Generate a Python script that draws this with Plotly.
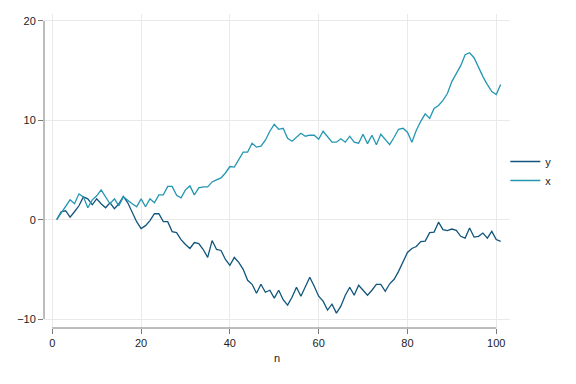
import plotly.graph_objects as go

n = list(range(1, 102))

y_vals = [0, 0.8, 0.9, 0.25, 0.8, 1.4, 2.3, 2.1, 1.5, 2.1,
          1.6, 1.2, 1.7, 1.1, 1.6, 2.35, 1.7, 0.7, -0.2, -0.9,
          -0.6, -0.1, 0.6, 0.6, -0.2, -0.2, -1.2, -1.3, -2.0, -2.5,
          -2.9, -2.3, -2.4, -3.0, -3.8, -2.1, -3.0, -3.1, -4.0, -4.6,
          -3.8, -4.3, -5.0, -6.1, -6.5, -7.4, -6.5, -7.3, -7.1, -7.9,
          -7.1, -8.05, -8.6, -7.8, -6.8, -7.7, -6.7, -5.8, -6.7, -7.7,
          -8.2, -9.1, -8.5, -9.4, -8.7, -7.6, -6.8, -7.6, -6.6, -7.1,
          -7.6, -7.1, -6.5, -6.5, -7.2, -6.45, -6.0, -5.2, -4.3, -3.3,
          -2.9, -2.7, -2.2, -2.15, -1.3, -1.25, -0.25, -1.0, -1.1, -0.94,
          -1.07, -1.67, -1.85, -0.84, -1.75, -1.67, -1.34, -1.85, -1.17, -2.0,
          -2.18]

x_vals = [0, 0.7, 1.3, 2.0, 1.6, 2.6, 2.3, 1.2, 2.0, 2.4,
          3.0, 2.3, 1.6, 2.1, 1.4, 2.3, 1.9, 1.6, 1.3, 2.1,
          1.3, 2.1, 1.7, 2.5, 2.5, 3.35, 3.35, 2.45, 2.2, 3.0,
          3.4, 2.5, 3.2, 3.3, 3.3, 3.8, 4.0, 4.2, 4.7, 5.35,
          5.3, 6.0, 6.8, 6.8, 7.7, 7.3, 7.4, 8.0, 8.9, 9.6,
          9.1, 9.2, 8.2, 7.9, 8.3, 8.7, 8.4, 8.5, 8.5, 8.1,
          8.9, 8.4, 7.8, 7.8, 8.15, 7.8, 8.4, 7.8, 7.7, 8.6,
          7.65, 8.5, 7.55, 8.6, 8.1, 7.55, 8.3, 9.1, 9.2, 8.8,
          7.8, 9.0, 9.9, 10.65, 10.2, 11.2, 11.5, 12.0, 12.7, 13.9,
          14.7, 15.5, 16.6, 16.8, 16.3, 15.3, 14.4, 13.6, 12.9, 12.6,
          13.6]

x_ticks = [0, 20, 40, 60, 80, 100]
y_ticks = [-10, 0, 10, 20]

FONT = "Arial, Liberation Sans, Helvetica, sans-serif"
AXIS_COLOR = "#7a7a7a"
GRID = "#e9e9e9"

fig = go.Figure()
fig.add_trace(go.Scatter(x=n, y=y_vals, mode="lines", name="y",
                         line=dict(color="#11557c", width=1.3)))
fig.add_trace(go.Scatter(x=n, y=x_vals, mode="lines", name="x",
                         line=dict(color="#2397b1", width=1.3)))

fig.update_layout(
    width=568, height=376,
    margin=dict(l=36, r=66, t=6, b=56, autoexpand=False),
    paper_bgcolor="white", plot_bgcolor="white",
    font=dict(family=FONT, size=11, color="#222222"),
    showlegend=True,
    legend=dict(x=0.99, xanchor="left", y=0.5, yanchor="middle",
                font=dict(size=11), itemwidth=30, tracegroupgap=0,
                bgcolor="rgba(0,0,0,0)"),
    xaxis=dict(range=[-1.87, 103.1], tickvals=x_ticks, showgrid=True,
               gridcolor=GRID, gridwidth=1, zeroline=False, showline=False,
               automargin=False,
               ticks="outside", ticklen=5, tickcolor=AXIS_COLOR,
               title=dict(text="n", font=dict(size=11), standoff=6)),
    yaxis=dict(range=[-10.9, 20.7], tickvals=y_ticks, showgrid=True,
               gridcolor=GRID, gridwidth=1, zeroline=False, showline=False,
               automargin=False,
               ticks="outside", ticklen=5, tickcolor=AXIS_COLOR),
    shapes=[
        dict(type="line", xref="paper", yref="y", x0=0, x1=0, y0=-10, y1=20,
             line=dict(color=AXIS_COLOR, width=1)),
        dict(type="line", xref="x", yref="paper", x0=0, x1=100, y0=0, y1=0,
             line=dict(color=AXIS_COLOR, width=1)),
    ],
)

fig.write_html("out.html")
